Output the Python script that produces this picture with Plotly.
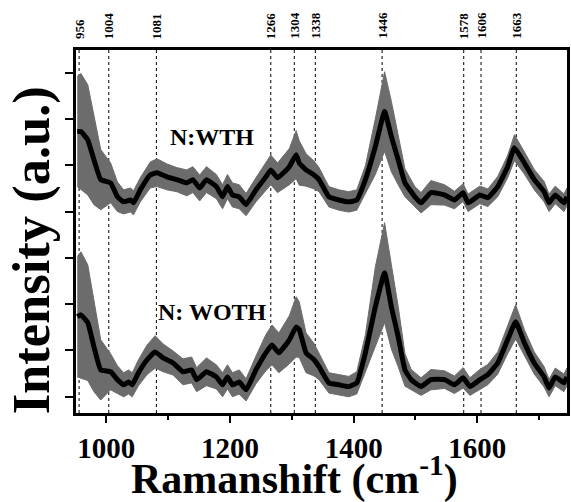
import numpy as np
import plotly.graph_objects as go

# ---------------- data ----------------
wth_x = [953, 959, 970, 980, 991, 1007, 1018, 1028, 1039, 1044, 1055, 1071, 1082, 1098, 1114,
         1130, 1140, 1151, 1162, 1178, 1188, 1196, 1204, 1215, 1226, 1242, 1258, 1266, 1277,
         1296, 1307, 1312, 1323, 1336, 1344, 1360, 1376, 1392, 1405, 1419, 1435, 1450, 1461,
         1472, 1483, 1499, 1509, 1525, 1547, 1563, 1577, 1585, 1604, 1617, 1633, 1649, 1660,
         1676, 1692, 1708, 1716, 1726, 1740, 1745]
wth_mean = [5.73, 5.73, 5.55, 5.12, 4.69, 4.62, 4.32, 4.21, 4.25, 4.19, 4.47, 4.79, 4.84, 4.75, 4.69,
            4.62, 4.69, 4.51, 4.69, 4.54, 4.32, 4.54, 4.36, 4.32, 4.15, 4.47, 4.75, 4.90, 4.73,
            4.97, 5.23, 5.05, 4.90, 4.79, 4.69, 4.32, 4.25, 4.21, 4.25, 4.69, 5.40, 6.16, 5.62,
            5.12, 4.62, 4.32, 4.19, 4.41, 4.36, 4.25, 4.41, 4.19, 4.36, 4.30, 4.54, 4.97, 5.38,
            5.05, 4.69, 4.43, 4.19, 4.36, 4.19, 4.32]
wth_sd = [1.19, 1.25, 1.19, 0.97, 0.65, 0.43, 0.32, 0.26, 0.26, 0.26, 0.26, 0.28, 0.30, 0.28, 0.26,
          0.28, 0.28, 0.28, 0.28, 0.26, 0.26, 0.26, 0.26, 0.26, 0.24, 0.26, 0.30, 0.32, 0.32,
          0.39, 0.52, 0.48, 0.35, 0.30, 0.26, 0.22, 0.22, 0.22, 0.22, 0.30, 0.60, 0.86, 0.76,
          0.54, 0.30, 0.22, 0.22, 0.26, 0.22, 0.19, 0.19, 0.19, 0.19, 0.19, 0.22, 0.24, 0.28,
          0.24, 0.22, 0.22, 0.19, 0.19, 0.19, 0.19]

woth_x = [953, 959, 970, 980, 991, 1007, 1018, 1028, 1036, 1042, 1052, 1066, 1079, 1092, 1108,
          1124, 1138, 1146, 1162, 1178, 1188, 1196, 1204, 1215, 1226, 1242, 1258, 1268, 1279,
          1296, 1307, 1312, 1323, 1336, 1344, 1360, 1376, 1392, 1405, 1419, 1435, 1450, 1461,
          1472, 1483, 1493, 1509, 1525, 1547, 1563, 1577, 1588, 1604, 1617, 1633, 1649, 1662,
          1676, 1692, 1708, 1716, 1726, 1740, 1745]
woth_mean = [1.73, 1.77, 1.60, 1.08, 0.58, 0.54, 0.37, 0.26, 0.32, 0.26, 0.52, 0.80, 0.97, 0.84, 0.73,
             0.54, 0.58, 0.37, 0.54, 0.43, 0.26, 0.43, 0.26, 0.32, 0.15, 0.58, 0.95, 1.12, 0.95,
             1.23, 1.51, 1.45, 0.95, 0.80, 0.65, 0.30, 0.26, 0.22, 0.30, 0.95, 1.94, 2.68, 1.94,
             1.30, 0.58, 0.37, 0.22, 0.37, 0.37, 0.26, 0.41, 0.22, 0.37, 0.48, 0.73, 1.23, 1.62,
             1.17, 0.73, 0.43, 0.19, 0.43, 0.30, 0.43]
woth_sd = [1.30, 1.36, 1.25, 0.97, 0.65, 0.39, 0.30, 0.26, 0.26, 0.26, 0.28, 0.32, 0.35, 0.30, 0.26,
           0.28, 0.28, 0.26, 0.30, 0.26, 0.26, 0.26, 0.26, 0.26, 0.24, 0.30, 0.39, 0.43, 0.43,
           0.52, 0.65, 0.60, 0.43, 0.35, 0.28, 0.22, 0.22, 0.22, 0.24, 0.39, 0.86, 1.08, 0.91,
           0.65, 0.35, 0.22, 0.19, 0.22, 0.19, 0.19, 0.22, 0.19, 0.22, 0.22, 0.24, 0.30, 0.37,
           0.28, 0.24, 0.22, 0.19, 0.19, 0.19, 0.19]

peak_positions = [956, 1004, 1081, 1266, 1304, 1338, 1446, 1578, 1606, 1663]
peak_labels = [str(p) for p in peak_positions]

series_names = ["N:WTH", "N: WOTH"]
x_tick_vals = [1000, 1200, 1400, 1600]
x_tick_text = ["1000", "1200", "1400", "1600"]
y_tick_vals = [0, 1, 2, 3, 4, 5, 6, 7]
x_title = "Ramanshift (cm<sup>-1</sup>)"
y_title = "Intensity (a.u.)"

# ---------------- figure ----------------
FONT = "Liberation Serif, Times New Roman, serif"
BAND = "rgb(108,108,108)"

fig = go.Figure()

for xs, m, s in [(wth_x, wth_mean, wth_sd), (woth_x, woth_mean, woth_sd)]:
    xs = np.array(xs, float)
    m = np.array(m, float)
    s = np.array(s, float)
    fig.add_trace(go.Scatter(
        x=np.concatenate([xs, xs[::-1]]),
        y=np.concatenate([m + s, (m - s)[::-1]]),
        fill="toself", fillcolor=BAND, line=dict(width=1, color=BAND),
        mode="lines", hoverinfo="skip", showlegend=False))
    fig.add_trace(go.Scatter(
        x=xs, y=m, mode="lines", line=dict(color="black", width=5, shape="spline", smoothing=0.35),
        showlegend=False))

for p in peak_positions:
    fig.add_shape(type="line", x0=p, x1=p, y0=0, y1=1, xref="x", yref="paper",
                  line=dict(color="black", width=1, dash="dot"), layer="below")

for p, lab in zip(peak_positions, peak_labels):
    fig.add_annotation(x=p, y=1, xref="x", yref="paper", text="<b>" + lab + "</b>", showarrow=False,
                       textangle=-90, xanchor="center", yanchor="bottom", yshift=9,
                       font=dict(family=FONT, size=13, color="black"))

fig.add_annotation(x=1171, y=5.62, xref="x", yref="y", text="<b>" + series_names[0] + "</b>",
                   showarrow=False, font=dict(family=FONT, size=24, color="black"))
fig.add_annotation(x=1172, y=1.84, xref="x", yref="y", text="<b>" + series_names[1] + "</b>",
                   showarrow=False, font=dict(family=FONT, size=24, color="black"))

# axis titles as annotations for precise placement
fig.add_annotation(x=0.445, y=0, xref="paper", yref="paper", text="<b>" + x_title + "</b>",
                   showarrow=False, xanchor="center", yanchor="middle", yshift=-63,
                   font=dict(family=FONT, size=42, color="black"))
fig.add_annotation(x=-0.091, y=0.449, xref="paper", yref="paper", text="<b>" + y_title + "</b>",
                   showarrow=False, textangle=-90, xanchor="center", yanchor="middle",
                   font=dict(family=FONT, size=52.5, color="black"))

fig.update_layout(
    width=571, height=502,
    margin=dict(l=76, r=1, t=50, b=89),
    paper_bgcolor="white", plot_bgcolor="white",
    font=dict(family=FONT, color="black"),
    xaxis=dict(
        range=[951, 1745], showgrid=False, zeroline=False,
        showline=True, linecolor="black", linewidth=3, mirror=True,
        tickmode="array", tickvals=x_tick_vals, ticktext=["<b>%s</b>" % t for t in x_tick_text],
        ticks="outside", ticklen=7, tickwidth=2, tickcolor="black",
        tickfont=dict(family=FONT, size=29, color="black"),
        minor=dict(dtick=100, tick0=1000, ticks="outside", ticklen=4, tickwidth=2, tickcolor="black"),
    ),
    yaxis=dict(
        range=[-0.35, 7.49], showgrid=False, zeroline=False,
        showline=True, linecolor="black", linewidth=3, mirror=True,
        tickmode="array", tickvals=y_tick_vals, showticklabels=False,
        ticks="outside", ticklen=8, tickwidth=2, tickcolor="black",
    ),
)

fig.write_html("out.html")
